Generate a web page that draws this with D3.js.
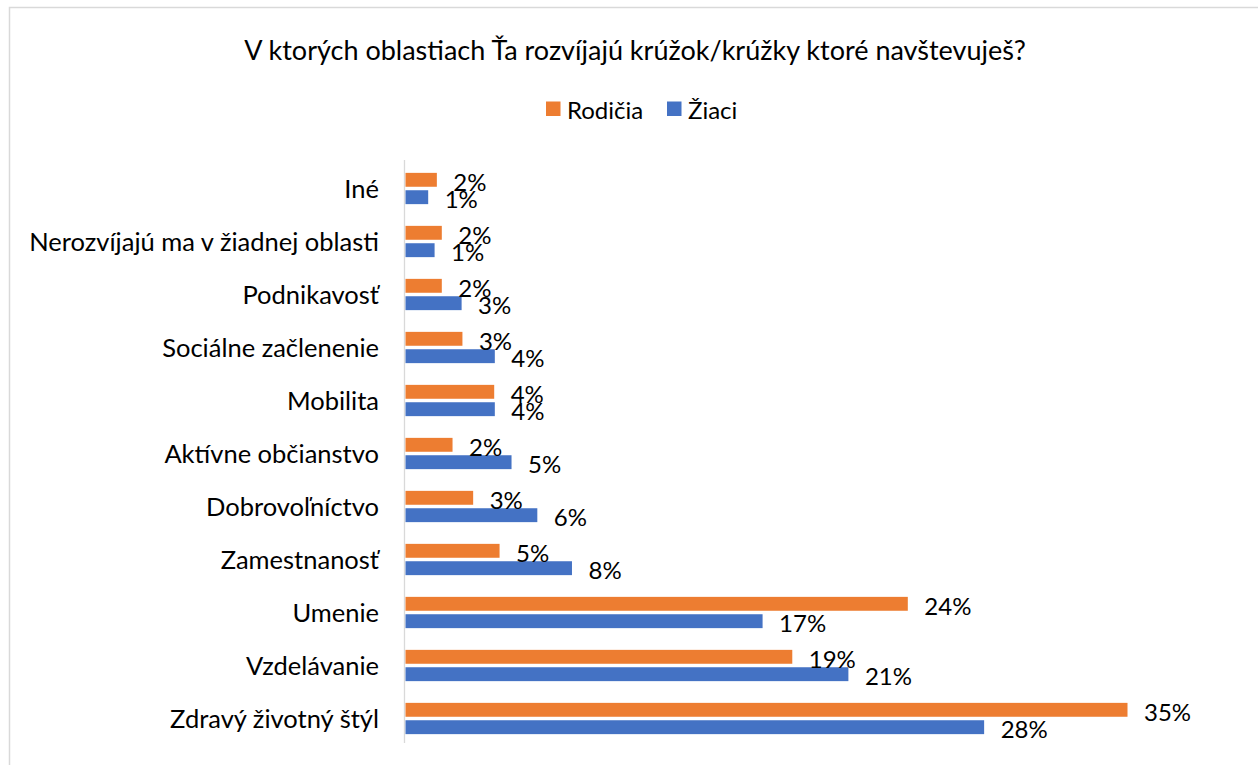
<!DOCTYPE html>
<html>
<head>
<meta charset="utf-8">
<script src="https://cdn.jsdelivr.net/npm/d3@7"></script>
<style>
  body { margin: 0; background: #fff; }
  text { font-family: Lato, "Open Sans", sans-serif; fill: #000; }
</style>
</head>
<body>
<div id="chart-area"></div>
<script>
// data, top to bottom as in the picture
var categories = ["Iné", "Nerozvíjajú ma v žiadnej oblasti", "Podnikavosť", "Sociálne začlenenie",
    "Mobilita", "Aktívne občianstvo", "Dobrovoľníctvo", "Zamestnanosť", "Umenie",
    "Vzdelávanie", "Zdravý životný štýl"];
var seriesNames = ["Rodičia", "Žiaci"];
var rodicia = [0.0152, 0.0176, 0.0176, 0.0276, 0.0430, 0.0228, 0.0328, 0.0456, 0.2435, 0.1875, 0.3500];
var ziaci   = [0.0110, 0.0141, 0.0272, 0.0433, 0.0433, 0.0514, 0.0639, 0.0807, 0.1731, 0.2147, 0.2805];
var colors = ["#ED7D31", "#4472C4"];

var W = 1258, H = 765;
var margin = { left: 405, top: 162 };
var width = 722, height = 583;

var svg = d3.select("#chart-area")
    .append("svg")
        .attr("width", W)
        .attr("height", H);

// chart border
svg.append("rect")
    .attr("x", 9.5).attr("y", 7.5)
    .attr("width", W + 20).attr("height", H + 20)
    .attr("fill", "none")
    .attr("stroke", "#d9d9d9")
    .attr("stroke-width", 1.5);

// Title
svg.append("text")
    .attr("x", 635)
    .attr("y", 49)
    .attr("font-size", "27px")
    .attr("text-anchor", "middle")
    .attr("dominant-baseline", "central")
    .text("V ktorých oblastiach Ťa rozvíjajú krúžok/krúžky ktoré navštevuješ?");

// Legend
var legend = svg.append("g");
var legendX = [546, 667];
seriesNames.forEach(function(name, i) {
    legend.append("rect")
        .attr("x", legendX[i]).attr("y", 101.5)
        .attr("width", 14.5).attr("height", 14.5)
        .attr("fill", colors[i]);
    legend.append("text")
        .attr("x", legendX[i] + 21)
        .attr("y", 109)
        .attr("font-size", "24px")
        .attr("dominant-baseline", "central")
        .text(name);
});

var g = svg.append("g")
    .attr("transform", "translate(" + margin.left + ", " + margin.top + ")");

// scales
var x = d3.scaleLinear()
    .domain([0, 0.35])
    .range([0, width]);

var y0 = d3.scaleBand()
    .domain(categories)
    .range([0, height])
    .paddingInner(0.41)
    .paddingOuter(0.205);

var y1 = d3.scaleBand()
    .domain(seriesNames)
    .range([0, y0.bandwidth()])
    .paddingInner(0.2);

var fmt = d3.format(".0%");

// category labels (y axis)
var yAxisCall = d3.axisLeft(y0).tickSize(0).tickPadding(26);
var yAxis = g.append("g")
    .attr("class", "y axis")
    .call(yAxisCall);
yAxis.select(".domain").remove();
yAxis.selectAll("text")
    .attr("font-size", "25.5px")
    .attr("fill", "#000")
    .attr("font-family", "Lato, 'Open Sans', sans-serif")
    .attr("dy", "0.38em");

// axis line
g.append("line")
    .attr("x1", -0.5).attr("x2", -0.5)
    .attr("y1", -2).attr("y2", height - 2)
    .attr("stroke", "#d9d9d9")
    .attr("stroke-width", 1.3);

var rows = categories.map(function(c, i) {
    return { cat: c, values: [rodicia[i], ziaci[i]] };
});

var groups = g.selectAll(".grp")
    .data(rows)
    .enter()
    .append("g")
        .attr("class", "grp")
        .attr("transform", function(d) { return "translate(0," + y0(d.cat) + ")"; });

var cells = groups.selectAll(".cell")
    .data(function(d) {
        return d.values.map(function(v, i) { return { name: seriesNames[i], value: v, i: i }; });
    })
    .enter();

cells.append("rect")
    .attr("x", 0.5)
    .attr("y", function(d) { return y1(d.name); })
    .attr("width", function(d) { return x(d.value); })
    .attr("height", y1.bandwidth())
    .attr("fill", function(d) { return colors[d.i]; });

cells.append("text")
    .attr("x", function(d) { return x(d.value) + 17; })
    .attr("y", function(d) { return y1(d.name) + y1.bandwidth() / 2 + 1.5; })
    .attr("font-size", "24px")
    .attr("dominant-baseline", "central")
    .text(function(d) { return fmt(d.value); });
</script>
</body>
</html>
